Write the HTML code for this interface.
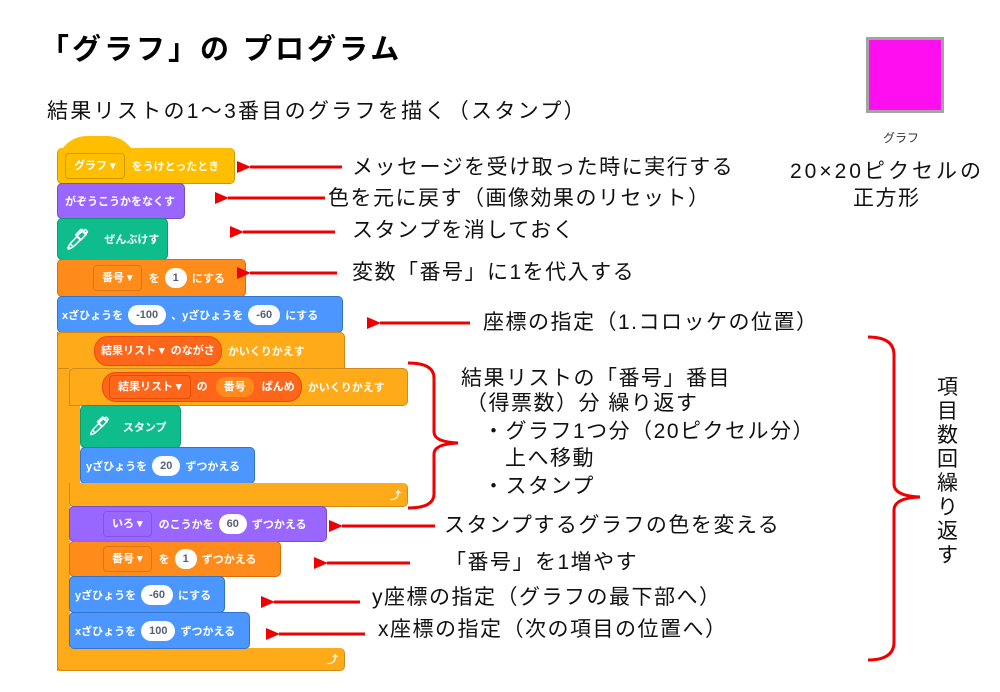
<!DOCTYPE html>
<html><head><meta charset="utf-8">
<style>
body{margin:0;width:1000px;height:692px;background:#fff;position:relative;overflow:hidden;font-family:"Liberation Sans","Noto Sans CJK JP",sans-serif;}
.a{position:absolute;white-space:nowrap;}
.t{font-size:21px;color:#111;line-height:24px;letter-spacing:1.5px;}
.b{position:absolute;border-radius:5px;color:#fff;font-weight:bold;font-size:11px;box-sizing:border-box;display:flex;align-items:center;padding-left:7px;white-space:nowrap;}
.w{display:inline-block;background:#fff;color:#575e75;border-radius:11px;padding:0 8px;height:20px;line-height:20px;margin:0 5px;font-weight:bold;}
.d{display:inline-block;border:1px solid rgba(0,0,0,.15);border-radius:4px;padding:0 8px;height:24px;line-height:24px;margin-right:7px;}
.r{display:inline-block;background:#ff661a;border:1px solid #e64d00;border-radius:14px;height:28px;line-height:28px;padding:0 6px;margin-right:6px;}
.rd{display:inline-block;border:1px solid #e64d00;border-radius:4px;height:22px;line-height:22px;padding:0 8px;margin-right:6px;}
</style></head><body>
<div class="a" style="left:40px;top:32px;font-size:29px;font-weight:bold;line-height:36px;letter-spacing:3px;">「グラフ」の プログラム</div>
<div class="a t" style="left:47px;top:100px;font-size:21px;letter-spacing:2.3px;">結果リストの1～3番目のグラフを描く（スタンプ）</div>

<div class="a" style="left:866px;top:37px;width:72px;height:70px;background:#ff0ff0;border:3px solid #a3a3a3;"></div>
<div class="a" style="left:883px;top:129px;font-size:12px;color:#333;">グラフ</div>
<div class="a t" style="left:790px;top:160px;letter-spacing:3px;">20×20ピクセルの</div>
<div class="a t" style="left:853px;top:187px;">正方形</div>

<!-- blocks -->
<div class="a" style="left:57px;top:136px;width:80px;height:30px;background:#ffbf00;border-radius:40px 40px 0 0;"></div>
<div class="b" style="left:57px;top:148px;width:178px;height:36px;background:#ffbf00;border:1px solid #cc9900;border-top:none;"><span class="d" style="border-color:#cc9900">グラフ ▾</span>をうけとったとき</div>
<div class="b" style="left:57px;top:183px;width:128px;height:36px;background:#9966ff;border:1px solid #774dcb;">がぞうこうかをなくす</div>
<div class="b" style="left:57px;top:218px;width:111px;height:42px;background:#0fbd8c;border:1px solid #0b9a73;"><span style="font-size:20px;margin-right:14px;">🖊</span>ぜんぶけす</div>
<div class="b" style="left:57px;top:259px;width:189px;height:38px;background:#ff8c1a;border:1px solid #db6e00;padding-left:35px;"><span class="d">番号 ▾</span>を<span class="w">1</span>にする</div>
<div class="b" style="left:57px;top:296px;width:286px;height:37px;background:#4c97ff;border:1px solid #3373cc;padding-left:4px;">xざひょうを<span class="w">-100</span>、yざひょうを<span class="w">-60</span>にする</div>
<!-- outer C -->
<div class="a" style="left:57px;top:332px;width:12px;height:339px;background:#ffab19;border-left:1px solid #cf8b17;"></div>
<div class="b" style="left:57px;top:332px;width:288px;height:37px;background:#ffab19;border:1px solid #cf8b17;padding-left:36px;border-radius:5px 5px 0 0;"><span class="r">結果リスト ▾ &nbsp;のながさ</span>かいくりかえす</div>
<div class="b" style="left:57px;top:648px;width:288px;height:23px;background:#ffab19;border:1px solid #cf8b17;border-top:none;border-radius:0 5px 5px 5px;justify-content:flex-end;padding-right:6px;">⤴</div>
<!-- inner C -->
<div class="a" style="left:69px;top:368px;width:11px;height:138px;background:#ffab19;"></div>
<div class="b" style="left:69px;top:368px;width:339px;height:38px;background:#ffab19;border:1px solid #cf8b17;padding-left:32px;border-radius:5px 5px 5px 0;"><span class="r"><span class="rd">結果リスト ▾</span>の <span class="w" style="background:#ff8c1a;color:#fff;border-radius:14px;">番号</span> ぱんめ</span>かいくりかえす</div>
<div class="b" style="left:80px;top:405px;width:101px;height:43px;background:#0fbd8c;border:1px solid #0b9a73;"><span style="font-size:18px;margin-right:12px;">🖊</span>スタンプ</div>
<div class="b" style="left:80px;top:447px;width:175px;height:37px;background:#4c97ff;border:1px solid #3373cc;padding-left:5px;">yざひょうを<span class="w">20</span>ずつかえる</div>
<div class="b" style="left:69px;top:483px;width:339px;height:24px;background:#ffab19;border:1px solid #cf8b17;border-top:none;border-radius:0 5px 5px 5px;justify-content:flex-end;padding-right:6px;">⤴</div>
<div class="b" style="left:69px;top:506px;width:258px;height:36px;background:#9966ff;border:1px solid #774dcb;padding-left:33px;"><span class="d">いろ ▾</span>のこうかを<span class="w">60</span>ずつかえる</div>
<div class="b" style="left:69px;top:541px;width:212px;height:36px;background:#ff8c1a;border:1px solid #db6e00;padding-left:33px;"><span class="d">番号 ▾</span>を<span class="w">1</span>ずつかえる</div>
<div class="b" style="left:69px;top:576px;width:156px;height:37px;background:#4c97ff;border:1px solid #3373cc;padding-left:5px;">yざひょうを<span class="w">-60</span>にする</div>
<div class="b" style="left:69px;top:612px;width:181px;height:37px;background:#4c97ff;border:1px solid #3373cc;padding-left:5px;">xざひょうを<span class="w">100</span>ずつかえる</div>

<!-- arrows & braces -->
<svg class="a" style="left:0;top:0" width="1000" height="692">
<defs><marker id="m" markerWidth="14" markerHeight="12" refX="1" refY="6" orient="auto" markerUnits="userSpaceOnUse"><path d="M14,0 L0,6 L14,12 Z" fill="#e00"/></marker></defs>
<g stroke="#e00" stroke-width="3" fill="none">
<line x1="342" y1="167" x2="250" y2="167" marker-end="url(#m)"/>
<line x1="325" y1="198" x2="228" y2="198" marker-end="url(#m)"/>
<line x1="335" y1="232" x2="243" y2="232" marker-end="url(#m)"/>
<line x1="337" y1="273" x2="250" y2="273" marker-end="url(#m)"/>
<line x1="470" y1="323" x2="380" y2="323" marker-end="url(#m)"/>
<line x1="435" y1="526" x2="342" y2="526" marker-end="url(#m)"/>
<line x1="410" y1="563" x2="327" y2="563" marker-end="url(#m)"/>
<line x1="360" y1="602" x2="274" y2="602" marker-end="url(#m)"/>
<line x1="365" y1="634" x2="279" y2="634" marker-end="url(#m)"/>
<path d="M408,363 Q434,363 434,378 L434,432 Q434,442 458,443 Q434,444 434,454 L434,494 Q434,508 408,508"/>
<path d="M868,337 Q894,337 894,355 L894,484 Q894,496 920,497 Q894,498 894,510 L894,642 Q894,660 868,660"/>
</g>
</svg>

<div class="a t" style="left:352px;top:156px;">メッセージを受け取った時に実行する</div>
<div class="a t" style="left:328px;top:187px;">色を元に戻す（画像効果のリセット）</div>
<div class="a t" style="left:352px;top:219px;">スタンプを消しておく</div>
<div class="a t" style="left:352px;top:261px;">変数「番号」に1を代入する</div>
<div class="a t" style="left:483px;top:311px;">座標の指定（1.コロッケの位置）</div>
<div class="a t" style="left:461px;top:367px;">結果リストの「番号」番目</div>
<div class="a t" style="left:466px;top:392px;">（得票数）分 繰り返す</div>
<div class="a t" style="left:483px;top:420px;">・グラフ1つ分（20ピクセル分）</div>
<div class="a t" style="left:505px;top:447px;">上へ移動</div>
<div class="a t" style="left:483px;top:475px;">・スタンプ</div>
<div class="a t" style="left:444px;top:514px;">スタンプするグラフの色を変える</div>
<div class="a t" style="left:445px;top:551px;">「番号」を1増やす</div>
<div class="a t" style="left:372px;top:586px;">y座標の指定（グラフの最下部へ）</div>
<div class="a t" style="left:378px;top:618px;">x座標の指定（次の項目の位置へ）</div>
<div class="a" style="left:937px;top:376px;width:24px;font-size:21px;line-height:24px;white-space:normal;color:#111;">項目数回繰り返す</div>
</body></html>
